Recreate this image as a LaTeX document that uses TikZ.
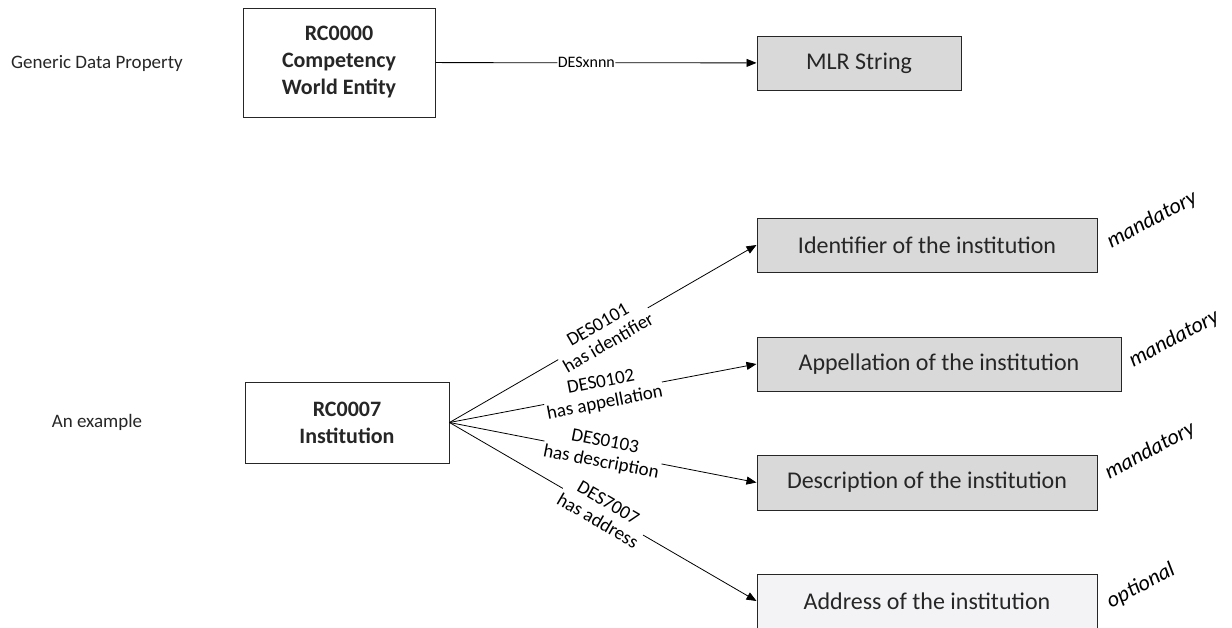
\documentclass[tikz,border=0pt]{standalone}
\usepackage{fontspec}
\setmainfont{Carlito}
\usetikzlibrary{arrows.meta,positioning}
\definecolor{boxgray}{HTML}{D9D9D9}
\definecolor{boxlight}{HTML}{F3F3F5}
\definecolor{inkgray}{HTML}{262626}

\begin{document}
\begin{tikzpicture}[x=1pt,y=-1pt,
  entity/.style={rectangle, draw=black!85, fill=white, line width=1pt, inner sep=0pt, align=center, text=inkgray, font=\fontsize{22}{27}\selectfont\bfseries},
  value/.style={rectangle, draw=black!85, fill=boxgray, line width=1pt, inner sep=0pt, minimum height=54pt, text=inkgray, font=\fontsize{24}{28}\selectfont},
  link/.style={-{Triangle[length=10pt,width=8pt]}, line width=0.8pt},
  prop/.style={sloped, fill=white, inner sep=1pt, align=center, font=\fontsize{19}{21}\selectfont},
  status/.style={rotate=28, font=\fontsize{22}{26}\selectfont\itshape},
  side/.style={text=inkgray, font=\fontsize{19}{23}\selectfont}
]
\useasboundingbox (0,0) rectangle (1232,627);

% generic data property
\node[side] (gen) at (97,63) {Generic Data Property};
\node[entity, minimum width=192pt, minimum height=109pt] (rc0) at (339,62.5) {RC0000\\Competency\\World Entity};
\node[value, minimum width=204pt] (mlr) at (859,63) {MLR String};
\draw[link] (rc0) -- node[prop, pos=0.47, inner sep=0.5pt, font=\fontsize{16}{18}\selectfont] {DESxnnn} (mlr);

% an example
\node[side] (ex) at (97,422) {An example};
\node[entity, minimum width=204pt, minimum height=81pt] (inst) at (347,422.5) {RC0007\\Institution};

\node[value, minimum width=340pt] (ident) at (927,245) {Identifier of the institution};
\node[value, minimum width=364pt] (appel) at (939,364) {Appellation of the institution};
\node[value, minimum width=340pt, minimum height=55pt] (descr) at (927,482.5) {Description of the institution};
\node[value, minimum width=340pt, fill=boxlight] (addr) at (927,601) {Address of the institution};

\draw[link] (inst.east) -- node[prop] {DES0101\\has identifier} (ident.west);
\draw[link] (inst.east) -- node[prop] {DES0102\\has appellation} (appel.west);
\draw[link] (inst.east) -- node[prop] {DES0103\\has description} (descr.west);
\draw[link] (inst.east) -- node[prop] {DES7007\\has address} (addr.west);

\node[status] (m1) at (1152,220) {mandatory};
\node[status] (m2) at (1174,339) {mandatory};
\node[status] (m3) at (1150,451) {mandatory};
\node[status] (o4) at (1141,586) {optional};
\end{tikzpicture}
\end{document}
